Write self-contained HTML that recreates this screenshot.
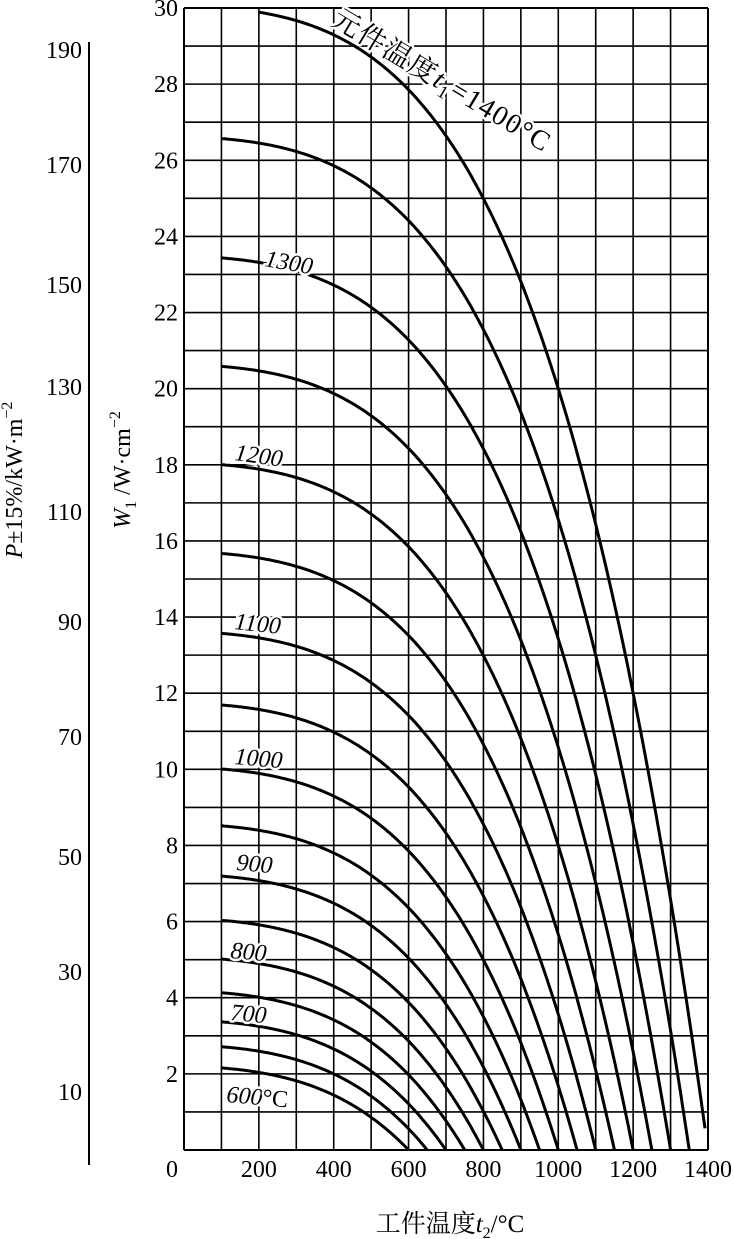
<!DOCTYPE html>
<html><head><meta charset="utf-8">
<style>
html,body{margin:0;padding:0;background:#fff;}
svg{display:block;font-family:"Liberation Serif","Noto Serif CJK SC",serif;}
.lb{paint-order:stroke;stroke:#fff;stroke-width:5px;stroke-linejoin:round;}
</style></head>
<body>
<svg id="s" width="734" height="1239" viewBox="0 0 734 1239" xmlns="http://www.w3.org/2000/svg">
<g id="grid" stroke="#000" stroke-width="1.6" fill="none"></g>
<g id="curves" stroke="#000" stroke-width="3" fill="none"></g>
<g id="txt" font-size="24" fill="#000"></g>
<line x1="89" y1="42" x2="89" y2="1165" stroke="#000" stroke-width="2"/>
<text x="0" y="0" font-size="24" transform="translate(22,480) rotate(-90)" text-anchor="middle"><tspan font-style="italic">P</tspan>±15%/kW·m<tspan dy="-10" font-size="16">−2</tspan></text>
<text x="0" y="0" font-size="24" transform="translate(130,470) rotate(-90)" text-anchor="middle"><tspan font-style="italic">W</tspan><tspan dy="6" font-size="16">1</tspan><tspan dy="-6"> /W·cm</tspan><tspan dy="-10" font-size="16">−2</tspan></text>
<text x="450" y="1232" font-size="25" text-anchor="middle">工件温度<tspan font-style="italic">t</tspan><tspan dy="6" font-size="16">2</tspan><tspan dy="-6">/°C</tspan></text>
<g id="labels" font-size="24" font-style="italic" fill="#000">
<text class="lb" transform="translate(264,266) rotate(10)">1300</text>
<text class="lb" transform="translate(234,460) rotate(8)">1200</text>
<text class="lb" transform="translate(234,629) rotate(6)">1100</text>
<text class="lb" transform="translate(234,764) rotate(5)">1000</text>
<text class="lb" transform="translate(236,870) rotate(5)">900</text>
<text class="lb" transform="translate(230,958) rotate(5)">800</text>
<text class="lb" transform="translate(230,1020) rotate(5)">700</text>
<text class="lb" transform="translate(226,1102) rotate(5)">600<tspan font-style="normal">°C</tspan></text>
<text class="lb" transform="translate(330,24) rotate(31)" font-style="normal" font-size="28" letter-spacing="1.5">元件温度<tspan font-style="italic">t</tspan><tspan dy="6" font-size="18">1</tspan><tspan dy="-6">=1400°C</tspan></text>
</g>
</svg>
<script>
var ns="http://www.w3.org/2000/svg";
function X(t){return 184+t*(708-184)/1400;}
function Y(w){return 1150-w*(1150-8)/30;}
var g=document.getElementById('grid');
function ln(p,x1,y1,x2,y2,sw){var l=document.createElementNS(ns,'line');l.setAttribute('x1',x1);l.setAttribute('y1',y1);l.setAttribute('x2',x2);l.setAttribute('y2',y2);if(sw)l.setAttribute('stroke-width',sw);p.appendChild(l);}
for(var i=0;i<=14;i++){ln(g,X(i*100),Y(30),X(i*100),Y(0),(i==0||i==14)?2:1.6);}
for(var j=0;j<=30;j++){ln(g,X(0),Y(j),X(1400),Y(j),(j==0||j==30)?2:1.6);}
var t=document.getElementById('txt');
function tx(x,y,s,a){var e=document.createElementNS(ns,'text');e.setAttribute('x',x);e.setAttribute('y',y);if(a)e.setAttribute('text-anchor',a);e.textContent=s;t.appendChild(e);}
for(var j=2;j<=30;j+=2){tx(178,Y(j)+8,''+j,'end');}
tx(172,1177,'0','middle');
for(var i=1;i<=7;i++){tx(X(i*200),1177,''+(i*200),'middle');}
var pl=[[190,50],[170,165],[150,285],[130,387],[110,512],[90,622],[70,737],[50,857],[30,972],[10,1092]];
var s=document.getElementById('s');
pl.forEach(function(p){ln(s,89,p[1],101,p[1],2);var e=document.createElementNS(ns,'text');e.setAttribute('x',82);e.setAttribute('y',p[1]+8);e.setAttribute('text-anchor','end');e.setAttribute('font-size','24');e.textContent=''+p[0];s.appendChild(e);});
var c=document.getElementById('curves');
var k=3.84e-12;
for(var t1=600;t1<=1400;t1+=50){
 var T1=t1+273,d='',start=(t1==1400)?200:100,end=(t1==1400)?1392:t1;
 for(var t2=start;t2<=end;t2+=4){var T2=t2+273;var w=k*(Math.pow(T1,4)-Math.pow(T2,4));d+=(d?'L':'M')+X(t2).toFixed(1)+' '+Y(w).toFixed(1);}
 if(t1!=1400){d+='L'+X(t1).toFixed(1)+' '+Y(0).toFixed(1);}
 var p=document.createElementNS(ns,'path');p.setAttribute('d',d);c.appendChild(p);
}
s.appendChild(document.getElementById('labels'));
</script>
</body></html>
